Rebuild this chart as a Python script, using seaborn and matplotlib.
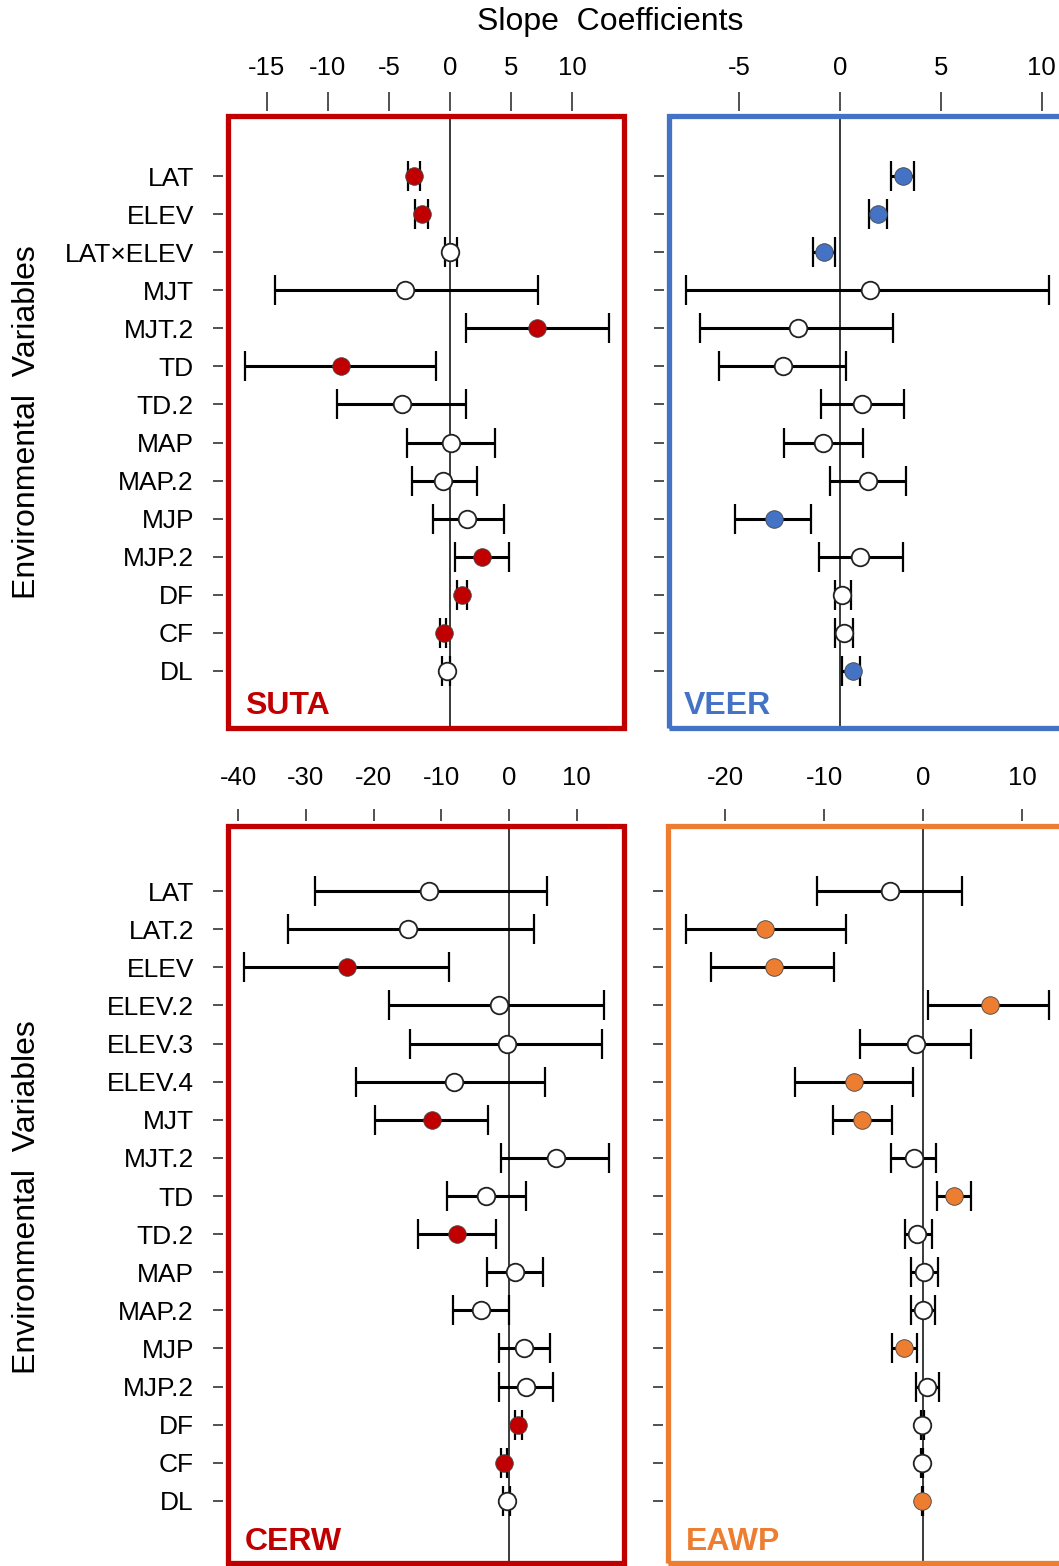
import numpy as np
import pandas as pd
import matplotlib
matplotlib.use("Agg")
import matplotlib.pyplot as plt
import seaborn as sns
from matplotlib.patches import Rectangle

sns.set_theme(style="white")
plt.rcParams["font.family"] = ["Liberation Sans", "DejaVu Sans"]
plt.rcParams["axes.unicode_minus"] = False

# ---------------- data ----------------
top_vars = ["LAT", "ELEV", "LAT×ELEV", "MJT", "MJT.2", "TD", "TD.2", "MAP",
            "MAP.2", "MJP", "MJP.2", "DF", "CF", "DL"]
bot_vars = ["LAT", "LAT.2", "ELEV", "ELEV.2", "ELEV.3", "ELEV.4", "MJT", "MJT.2",
            "TD", "TD.2", "MAP", "MAP.2", "MJP", "MJP.2", "DF", "CF", "DL"]

suta_coef = [-2.95, -2.32, 0.0, -3.65, 7.15, -8.92, -3.9, 0.08, -0.55, 1.42, 2.65, 0.95, -0.49, -0.22]
suta_lo = [-3.41, -2.86, -0.41, -14.32, 1.31, -16.78, -9.22, -3.49, -3.11, -1.42, 0.41, 0.55, -0.82, -0.65]
suta_hi = [-2.45, -1.77, 0.55, 7.17, 13.0, -1.15, 1.31, 3.66, 2.23, 4.45, 4.86, 1.36, -0.33, 0.0]
suta_sig = [1, 1, 0, 0, 1, 1, 0, 0, 0, 0, 1, 1, 1, 0]

veer_coef = [3.14, 1.87, -0.79, 1.49, -2.06, -2.84, 1.07, -0.83, 1.40, -3.26, 0.99, 0.12, 0.20, 0.63]
veer_lo = [2.51, 1.45, -1.35, -7.65, -6.94, -5.98, -0.96, -2.78, -0.50, -5.20, -1.04, -0.25, -0.25, 0.12]
veer_hi = [3.68, 2.34, -0.26, 10.37, 2.64, 0.28, 3.19, 1.12, 3.27, -1.45, 3.14, 0.53, 0.66, 0.99]
veer_sig = [1, 1, 1, 0, 0, 0, 0, 0, 0, 1, 0, 0, 0, 1]

cerw_coef = [-11.82, -14.92, -23.98, -1.53, -0.34, -8.08, -11.38, 6.94, -3.4, -7.64, 0.89, -4.09,
             2.22, 2.46, 1.38, -0.74, -0.34]
cerw_lo = [-28.66, -32.65, -39.1, -17.68, -14.63, -22.65, -19.8, -1.23, -9.21, -13.45, -3.30, -8.32,
           -1.43, -1.43, 0.89, -1.18, -0.84]
cerw_hi = [5.57, 3.69, -8.82, 14.04, 13.79, 5.32, -3.15, 14.73, 2.51, -1.97, 5.07, 0.05,
           6.06, 6.55, 1.87, -0.25, 0.15]
cerw_sig = [0, 0, 1, 0, 0, 0, 1, 0, 0, 1, 0, 0, 0, 0, 1, 1, 0]

eawp_coef = [-3.35, -15.96, -15.02, 6.74, -0.76, -6.98, -6.21, -0.93, 3.11, -0.66, 0.11, 0.01,
             -1.91, 0.42, -0.12, -0.12, -0.12]
eawp_lo = [-10.69, -23.97, -21.44, 0.51, -6.38, -12.94, -9.07, -3.28, 1.36, -1.84, -1.26, -1.26,
           -3.18, -0.76, -0.2, -0.2, -0.15]
eawp_hi = [3.88, -7.82, -8.97, 12.69, 4.82, -1.06, -3.18, 1.29, 4.82, 0.86, 1.46, 1.19,
           -0.66, 1.62, 0.05, 0.02, 0.0]
eawp_sig = [0, 1, 1, 1, 0, 1, 1, 0, 1, 0, 0, 0, 1, 0, 0, 0, 1]

suta_ticks = [-15, -10, -5, 0, 5, 10]
veer_ticks = [-5, 0, 5, 10]
cerw_ticks = [-40, -30, -20, -10, 0, 10]
eawp_ticks = [-20, -10, 0, 10]

RED = "#C00000"
BLUE = "#4472C4"
ORANGE = "#ED7D31"

W, H = 1059, 1566
fig = plt.figure(figsize=(W / 100, H / 100), dpi=100)


def px_axes(x0, y0, x1, y1):
    return fig.add_axes([x0 / W, 1 - y1 / H, (x1 - x0) / W, (y1 - y0) / H])


panels = [
    dict(name="SUTA", color=RED, box=(228, 116, 624, 728), vars=top_vars,
         coef=suta_coef, lo=suta_lo, hi=suta_hi, sig=suta_sig, ticks=suta_ticks,
         xlim=(-18.17, 14.24), ylim=(14.50, -1.58), labels=True,
         xtl=13.7, xpad=8.6, lab=(0.043, 0.023)),
    dict(name="VEER", color=BLUE, box=(669, 116, 1065, 728), vars=top_vars,
         coef=veer_coef, lo=veer_lo, hi=veer_hi, sig=veer_sig, ticks=veer_ticks,
         xlim=(-8.47, 11.15), ylim=(14.50, -1.58), labels=False,
         xtl=13.7, xpad=8.6, lab=(0.038, 0.023)),
    dict(name="CERW", color=RED, box=(228, 826, 624, 1563), vars=bot_vars,
         coef=cerw_coef, lo=cerw_lo, hi=cerw_hi, sig=cerw_sig, ticks=cerw_ticks,
         xlim=(-41.52, 16.99), ylim=(17.63, -1.71), labels=True,
         xtl=8.6, xpad=13.6, lab=(0.043, 0.018)),
    dict(name="EAWP", color=ORANGE, box=(668, 826, 1064, 1563), vars=bot_vars,
         coef=eawp_coef, lo=eawp_lo, hi=eawp_hi, sig=eawp_sig, ticks=eawp_ticks,
         xlim=(-25.75, 14.21), ylim=(17.63, -1.71), labels=False,
         xtl=8.6, xpad=13.6, lab=(0.045, 0.018)),
]

for p in panels:
    ax = px_axes(*p["box"])
    df = pd.DataFrame({"var": p["vars"], "coef": p["coef"], "lo": p["lo"],
                       "hi": p["hi"], "sig": p["sig"]})
    df["row"] = np.arange(len(df))

    ax.axvline(0, color="#2b2b2b", lw=1.3, zorder=1)
    ax.errorbar(df["coef"], df["row"],
                xerr=[df["coef"] - df["lo"], df["hi"] - df["coef"]],
                fmt="none", ecolor="black", elinewidth=2.2,
                capsize=10.8, capthick=1.6, zorder=2)
    sns.scatterplot(data=df[df["sig"] == 0], x="coef", y="row", s=160,
                    color="white", edgecolor="#222222", linewidth=1.3,
                    legend=False, ax=ax, zorder=3)
    sns.scatterplot(data=df[df["sig"] == 1], x="coef", y="row", s=160,
                    color=p["color"], edgecolor="#444444", linewidth=0.6,
                    legend=False, ax=ax, zorder=3)

    ax.set_xlim(*p["xlim"])
    ax.set_ylim(*p["ylim"])
    ax.set_xlabel("")
    ax.set_ylabel("")
    ax.set_xticks(p["ticks"])
    ax.set_xticklabels([str(t) for t in p["ticks"]])
    ax.set_yticks(df["row"])
    ax.set_yticklabels(df["var"] if p["labels"] else [])

    ax.xaxis.tick_top()
    for s in ax.spines.values():
        s.set_visible(False)
    ax.spines["top"].set_position(("outward", 3.6))
    ax.spines["left"].set_position(("outward", 3.6))
    ax.tick_params(axis="x", top=True, bottom=False, labeltop=True,
                   labelbottom=False, length=p["xtl"], width=1.2,
                   pad=p["xpad"], color="#333333", labelsize=18.5,
                   labelcolor="black")
    ax.tick_params(axis="y", left=True, right=False, length=7.2, width=1.2,
                   pad=13.7, color="#333333", labelsize=19, labelcolor="black")
    ax.set_facecolor("white")
    ax.add_patch(Rectangle((0, 0), 1, 1, transform=ax.transAxes, fill=False,
                           edgecolor=p["color"], lw=3.8, clip_on=False, zorder=5))
    ax.text(p["lab"][0], p["lab"][1], p["name"], transform=ax.transAxes,
            ha="left", va="baseline", fontsize=23, fontweight="bold",
            color=p["color"], zorder=6)

fig.text(610 / W, 1 - 22 / H, "Slope  Coefficients", ha="center", va="center",
         fontsize=23, color="black")
fig.text(27 / W, 1 - 422 / H, "Environmental  Variables", ha="center",
         va="center", rotation=90, fontsize=23, color="black")
fig.text(27 / W, 1 - 1197 / H, "Environmental  Variables", ha="center",
         va="center", rotation=90, fontsize=23, color="black")

fig.savefig("out.png", dpi=100, facecolor="white")
